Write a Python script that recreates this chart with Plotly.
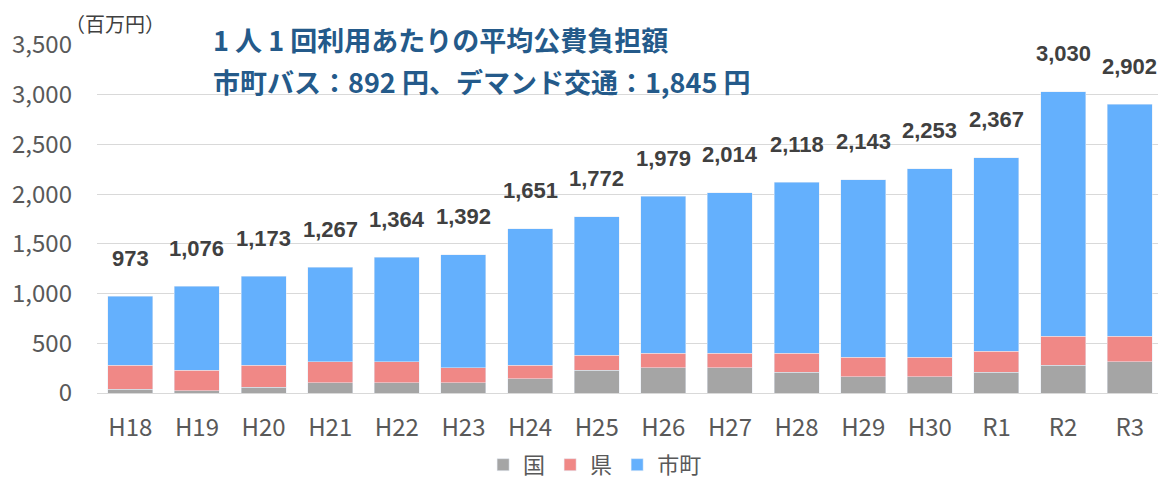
import plotly.graph_objects as go

years = ['H18', 'H19', 'H20', 'H21', 'H22', 'H23', 'H24', 'H25',
         'H26', 'H27', 'H28', 'H29', 'H30', 'R1', 'R2', 'R3']
kuni = [40, 22, 59, 105, 105, 105, 144, 230, 253, 253, 207, 164, 164, 207, 277, 316]
ken = [237, 208, 218, 211, 211, 148, 133, 151, 148, 148, 194, 195, 195, 214, 296, 257]
totals = [973, 1076, 1173, 1267, 1364, 1392, 1651, 1772,
          1979, 2014, 2118, 2143, 2253, 2367, 3030, 2902]
shicho = [t - a - b for t, a, b in zip(totals, kuni, ken)]

JP_FONT = 'Noto Sans CJK JP'
TITLE_BLUE = '#245A8A'

fig = go.Figure()
fig.add_trace(go.Bar(x=years, y=kuni, name='国', marker_color='#A5A5A5'))
fig.add_trace(go.Bar(x=years, y=ken, name='県', marker_color='#F08886'))
fig.add_trace(go.Bar(x=years, y=shicho, name='市町', marker_color='#64B0FD'))

# total labels above each stack
for yr, tot in zip(years, totals):
    fig.add_annotation(x=yr, y=tot, text=f'{tot:,}', showarrow=False,
                       yanchor='middle', yshift=38,
                       font=dict(family='Liberation Sans', size=22, color='#404040', weight='bold'))

fig.add_annotation(xref='paper', yref='paper', x=-0.032, y=1.0, xanchor='left', yanchor='middle',
                   yshift=22, text='（百万円）', showarrow=False,
                   font=dict(family=JP_FONT, size=20, color='#404040'))
fig.add_annotation(xref='paper', yref='paper', x=0.107, y=1.0, xanchor='left', yanchor='middle',
                   yshift=6, text='<b>1 人 1 回利用あたりの平均公費負担額</b>', showarrow=False,
                   font=dict(family=JP_FONT, size=27, color=TITLE_BLUE))
fig.add_annotation(xref='paper', yref='paper', x=0.107, y=1.0, xanchor='left', yanchor='middle',
                   yshift=-36, text='<b>市町バス：892 円、デマンド交通：1,845 円</b>', showarrow=False,
                   font=dict(family=JP_FONT, size=27, color=TITLE_BLUE))

# page body has an 8px margin, so the figure is sized to fit the window
fig.update_layout(
    barmode='stack',
    bargap=0.325,
    width=1158, height=472,
    margin=dict(l=89, r=3, t=37, b=87, autoexpand=False),
    plot_bgcolor='white', paper_bgcolor='white',
    font=dict(family=JP_FONT, color='#595959'),
    showlegend=True,
    legend=dict(orientation='h', xref='container', yref='container',
                x=0.507, xanchor='center', y=0.032, yanchor='middle',
                font=dict(size=22, color='#595959'), traceorder='normal'),
    xaxis=dict(tickfont=dict(size=24, color='#595959'), showline=True, automargin=False,
               linecolor='#D9D9D9', linewidth=1, ticks='', ticklabelstandoff=13),
    yaxis=dict(range=[0, 3500], dtick=500, tickformat=',', automargin=False,
               tickfont=dict(size=24, color='#595959'), ticklabelstandoff=24,
               gridcolor='#D9D9D9', gridwidth=1, zeroline=False, ticks=''),
)

fig.write_html('out.html')
